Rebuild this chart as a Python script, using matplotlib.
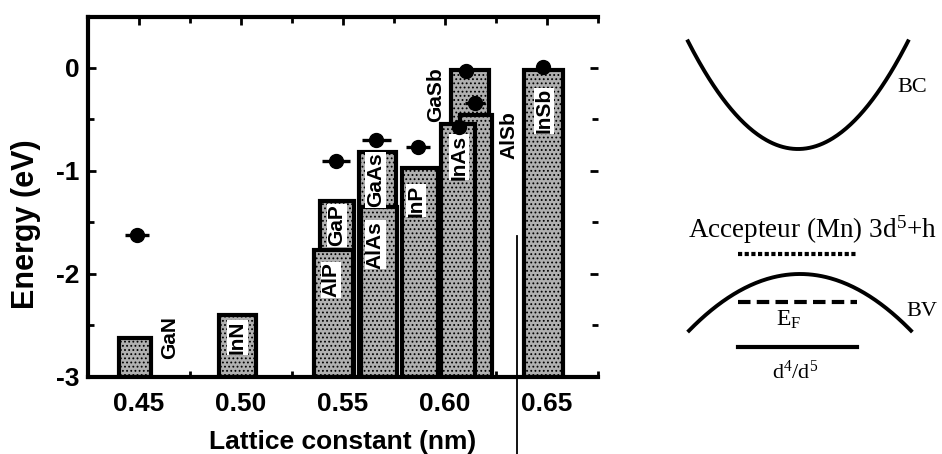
import matplotlib
matplotlib.use("Agg")
import matplotlib.pyplot as plt
import numpy as np

plt.rcParams['font.family'] = ['Liberation Sans', 'DejaVu Sans']
plt.rcParams['mathtext.fontset'] = 'custom'
plt.rcParams['mathtext.rm'] = 'Liberation Serif'
plt.rcParams['mathtext.it'] = 'Liberation Serif:italic'
plt.rcParams['hatch.color'] = '#5a5a5a'
plt.rcParams['hatch.linewidth'] = 0.8

# ---- data (drawing order: back to front) ----
materials = ['GaN', 'InN', 'GaP', 'AlP', 'GaAs', 'AlAs', 'InP', 'GaSb', 'AlSb', 'InAs', 'InSb']
lattice = [0.4481, 0.4984, 0.5471, 0.5452, 0.5669, 0.5677, 0.5878, 0.6122, 0.6152, 0.6064, 0.6483]
vb_top = [-2.62, -2.40, -1.29, -1.77, -0.82, -1.35, -0.97, -0.02, -0.46, -0.55, -0.02]
bar_width = [0.0155, 0.018, 0.017, 0.019, 0.018, 0.0175, 0.018, 0.0185, 0.016, 0.0165, 0.019]
label_x = [0.465, 0.4983, 0.5471, 0.5442, 0.5659, 0.5659, 0.5857, 0.5954, 0.6312, 0.607, 0.6486]
label_y = [-2.62, -2.62, -1.53, -2.06, -1.09, -1.72, -1.29, -0.26, -0.65, -0.87, -0.42]
label_boxed = [False, True, True, True, True, True, True, False, False, True, True]

# Mn acceptor levels
mn_materials = ['GaN', 'GaP', 'GaAs', 'InP', 'InAs', 'GaSb', 'AlSb', 'InSb']
mn_lattice = [0.449, 0.5466, 0.5664, 0.5867, 0.607, 0.6104, 0.6147, 0.648]
mn_level = [-1.62, -0.91, -0.70, -0.77, -0.58, -0.03, -0.34, 0.01]
mn_xerr = [0.006, 0.007, 0.0072, 0.006, 0.003, 0.003, 0.005, 0.003]

y_ticks = [-3, -2, -1, 0]
y_ticklabels = ['-3', '-2', '-1', '0']
x_ticks = [0.45, 0.50, 0.55, 0.60, 0.65]
x_ticklabels = ['0.45', '0.50', '0.55', '0.60', '0.65']
bar_base = -3

# ---- figure ----
fig = plt.figure(figsize=(9.42, 4.54), dpi=100)
ax = fig.add_axes([88/942, 77/454, 510/942, 360/454])

heights = [v - bar_base for v in vb_top]
ax.bar(lattice, heights, width=bar_width, bottom=bar_base, color='#b0b0b0',
       edgecolor='black', linewidth=3, hatch='....', zorder=2)

for name, lx, ly, boxed in zip(materials, label_x, label_y, label_boxed):
    kw = {}
    if boxed:
        kw['bbox'] = dict(facecolor='white', edgecolor='none', pad=0.5)
    ax.text(lx, ly, name, rotation=90, ha='center', va='center', fontsize=15,
            fontweight='bold', zorder=4, **kw)

ax.errorbar(mn_lattice, mn_level, xerr=mn_xerr, fmt='o', color='black',
            markersize=10, elinewidth=2.4, capsize=0, zorder=5)

ax.set_xlim(0.4263, 0.6732)
ax.set_ylim(-3, 0.49)
ax.set_xticks(x_ticks)
ax.set_xticklabels(x_ticklabels)
ax.set_yticks(y_ticks)
ax.set_yticklabels(y_ticklabels)
ax.set_xticks(np.arange(0.425, 0.676, 0.025), minor=True)
ax.set_yticks(np.arange(-3, 0.5, 0.5), minor=True)
ax.tick_params(which='both', direction='in', top=True, right=True, width=2)
ax.tick_params(which='major', length=6, labelsize=19)
ax.tick_params(axis='x', which='major', pad=11)
ax.tick_params(axis='y', which='major', pad=6)
ax.tick_params(which='minor', length=4)
for lab in ax.get_xticklabels() + ax.get_yticklabels():
    lab.set_fontweight('bold')
for s in ['left', 'bottom', 'top']:
    ax.spines[s].set_linewidth(3)
ax.spines['right'].set_visible(False)
ax.set_xlabel('Lattice constant (nm)', fontsize=19, fontweight='bold', labelpad=10)
ax.set_ylabel('Energy (eV)', fontsize=22, fontweight='bold', va='center', ha='center')
ax.yaxis.set_label_coords(-0.122, 0.425)

# ---- right schematic (pixel coordinates overlay) ----
ov = fig.add_axes([0, 0, 1, 1], facecolor='none')
ov.set_xlim(0, 942)
ov.set_ylim(454, 0)
ov.axis('off')

bc_vertex = (798, 149)
bc_half_span = 110
bc_curv = 0.0089
bv_vertex = (800, 274)
bv_half_span = 111
bv_curv = 0.0046
xs = np.linspace(bc_vertex[0] - bc_half_span, bc_vertex[0] + bc_half_span, 200)
ov.plot(xs, bc_vertex[1] - bc_curv * (xs - bc_vertex[0])**2, color='black', lw=2.8)
xs2 = np.linspace(bv_vertex[0] - bv_half_span, bv_vertex[0] + bv_half_span, 200)
ov.plot(xs2, bv_vertex[1] + bv_curv * (xs2 - bv_vertex[0])**2, color='black', lw=2.8)

level_x = (738, 857)
acc_y, ef_y, d_y = 254, 302, 347
ov.plot(level_x, [acc_y, acc_y], color='black', lw=3, ls=(0, (1, 0.6)))
ov.plot(level_x, [ef_y, ef_y], color='black', lw=3, ls=(0, (3, 1.5)))
ov.plot(level_x, [d_y, d_y], color='black', lw=3)

serif = ['Liberation Serif', 'DejaVu Serif']
ov.text(897, 88, 'BC', family=serif, fontsize=16, ha='left', va='center')
ov.text(906, 312, 'BV', family=serif, fontsize=16, ha='left', va='center')
ov.text(812, 230, r'Accepteur (Mn) 3d$^{5}$+h', family=serif, fontsize=19.5,
        ha='center', va='center')
ov.text(789, 320, r'E$_{\mathrm{F}}$', family=serif, fontsize=17, ha='center', va='center')
ov.text(795, 372, r'd$^{4}$/d$^{5}$', family=serif, fontsize=16, ha='center', va='center')

# scan artefact vertical line
ov.plot([517, 517], [236, 454], color='black', lw=1.3)

fig.savefig('out.png', dpi=100)
